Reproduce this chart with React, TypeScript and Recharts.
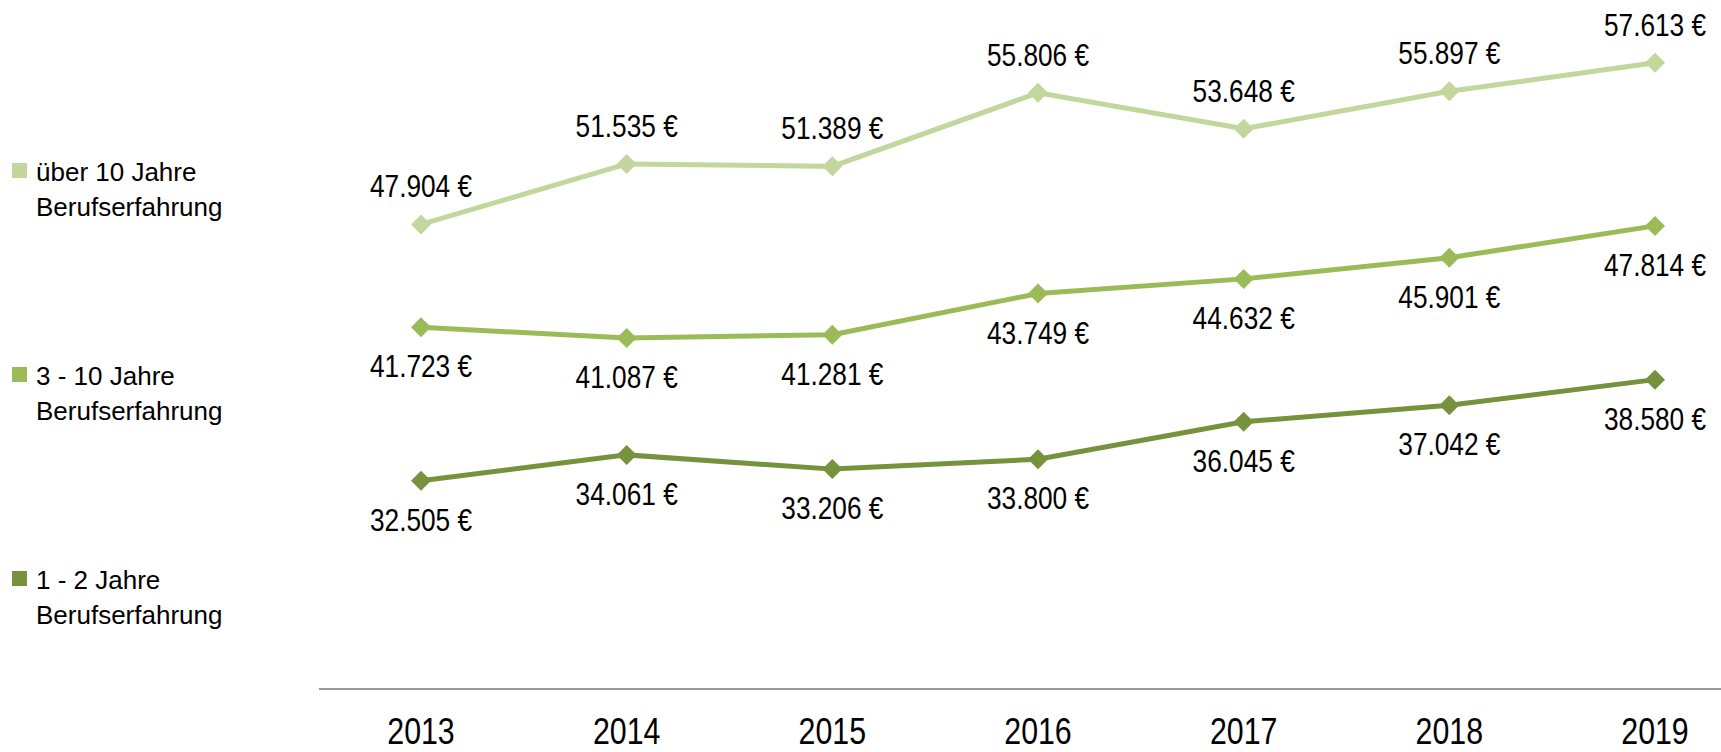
import React from 'react';
import { LineChart, Line, XAxis, YAxis, Legend, LabelList } from 'recharts';

const years = ['2013', '2014', '2015', '2016', '2017', '2018', '2019'];
const over10Years = [47904, 51535, 51389, 55806, 53648, 55897, 57613];
const threeToTenYears = [41723, 41087, 41281, 43749, 44632, 45901, 47814];
const oneToTwoYears = [32505, 34061, 33206, 33800, 36045, 37042, 38580];

const seriesNames = ['über 10 Jahre', '3 - 10 Jahre', '1 - 2 Jahre'];

const COLORS = ['#c3d69b', '#9bbb59', '#76923c'];
const SANS = '"Liberation Sans", Arial, sans-serif';
// no narrow font installed, so squeeze Liberation Sans horizontally
const NARROW_SCALE = 0.82;

const data = years.map((year, i) => ({
  year,
  over10: over10Years[i],
  mid: threeToTenYears[i],
  junior: oneToTwoYears[i],
}));

// 47904 -> "47.904 €"
const formatEuro = (v: number) =>
  String(Math.round(v)).replace(/\B(?=(\d{3})+(?!\d))/g, '.') + ' €';

const NarrowText = ({ x, y, size, children }: any) => (
  <g transform={`translate(${x},${y})`}>
    <text
      transform={`scale(${NARROW_SCALE},1)`}
      textAnchor="middle"
      dominantBaseline="central"
      fontFamily={SANS}
      fontSize={size}
      fill="#000"
    >
      {children}
    </text>
  </g>
);

const makeDiamond = (color: string) => (props: any) => {
  const { cx, cy, index } = props;
  if (cx == null || cy == null) return <g key={index} />;
  const r = 10;
  return (
    <polygon
      key={index}
      points={`${cx},${cy - r} ${cx + r},${cy} ${cx},${cy + r} ${cx - r},${cy}`}
      fill={color}
    />
  );
};

const makeLabel = (dy: number) => (props: any) => {
  const { x, y, value, index } = props;
  return (
    <NarrowText key={index} x={x} y={y + dy} size={32}>
      {formatEuro(value)}
    </NarrowText>
  );
};

const YearTick = (props: any) => {
  const { x, y, payload } = props;
  return (
    <NarrowText x={x} y={y + 42} size={37}>
      {payload.value}
    </NarrowText>
  );
};

const renderLegend = () => (
  <div style={{ position: 'relative', width: 260, height: 480, fontFamily: SANS }}>
    {seriesNames.map((name, i) => (
      <div
        key={name}
        style={{ position: 'absolute', left: 0, top: i * 204, display: 'flex', alignItems: 'flex-start' }}
      >
        <div style={{ width: 15, height: 15, background: COLORS[i], marginTop: 8, marginRight: 9 }} />
        <div style={{ fontSize: 26, lineHeight: '35px', color: '#000' }}>
          {name}
          <br />
          Berufserfahrung
        </div>
      </div>
    ))}
  </div>
);

export default function App() {
  return (
    <div style={{ position: 'absolute', left: 0, top: 0, width: 1721, height: 752, background: '#fff' }}>
      <LineChart
        width={1721}
        height={752}
        data={data}
        margin={{ top: 23, right: 0, bottom: 13, left: 319 }}
      >
        <XAxis
          dataKey="year"
          height={50}
          padding={{ left: 102, right: 66 }}
          axisLine={{ stroke: '#9a9a9a', strokeWidth: 2 }}
          tickLine={false}
          tickSize={0}
          tickMargin={0}
          tick={<YearTick />}
        />
        <YAxis hide type="number" domain={[20000, 60000]} />
        <Legend
          layout="vertical"
          align="center"
          verticalAlign="middle"
          content={renderLegend}
          wrapperStyle={{ left: 12, top: 155, width: 260 }}
        />
        <Line
          dataKey="over10"
          stroke={COLORS[0]}
          strokeWidth={5}
          dot={makeDiamond(COLORS[0])}
          activeDot={false}
          isAnimationActive={false}
        >
          <LabelList dataKey="over10" content={makeLabel(-38)} />
        </Line>
        <Line
          dataKey="mid"
          stroke={COLORS[1]}
          strokeWidth={5}
          dot={makeDiamond(COLORS[1])}
          activeDot={false}
          isAnimationActive={false}
        >
          <LabelList dataKey="mid" content={makeLabel(39)} />
        </Line>
        <Line
          dataKey="junior"
          stroke={COLORS[2]}
          strokeWidth={5}
          dot={makeDiamond(COLORS[2])}
          activeDot={false}
          isAnimationActive={false}
        >
          <LabelList dataKey="junior" content={makeLabel(39)} />
        </Line>
      </LineChart>
    </div>
  );
}
